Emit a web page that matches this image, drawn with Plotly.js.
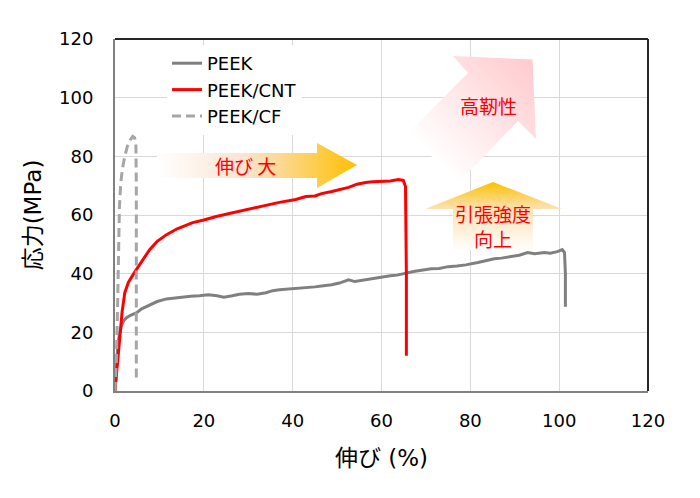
<!DOCTYPE html>
<html>
<head>
<meta charset="utf-8">
<script src="https://cdn.plot.ly/plotly-3.0.1.min.js"></script>
<style>html,body{margin:0;padding:0;background:#fff;}#chart{width:700px;height:498px;}</style>
</head>
<body>
<div id="chart"></div>
<script>
// ---- data ----
const seriesNames = ["PEEK", "PEEK/CNT", "PEEK/CF"];

const peekX = [0, 0.3, 0.6, 1.0, 1.5, 2.0, 2.6, 3.5, 4.9, 6.0, 7.8, 9.5, 11.6, 13.5, 15.3, 17, 19, 21, 23, 24.5, 26.4, 28, 30, 32, 34, 35.5, 37, 39, 41.4, 43, 45, 46.5, 48.8, 50.5, 52.6, 54, 56.4, 58, 60, 62, 63.5, 65.6, 67.5, 69, 71.2, 73, 75, 77, 79, 81.7, 83.5, 85.4, 87, 89.2, 91, 92.9, 94.5, 96.7, 98, 99.6, 100.7, 101.2, 101.4, 101.4];
const peekY = [0, 8, 15, 19.5, 22.5, 24, 25, 25.8, 26.7, 28, 29.4, 30.5, 31.4, 31.8, 32.1, 32.3, 32.5, 32.8, 32.5, 32.0, 32.5, 33, 33.2, 33.0, 33.5, 34.2, 34.5, 34.7, 34.9, 35.3, 35.5, 35.8, 36.2, 36.8, 37.9, 37.3, 37.9, 38.3, 39, 39.3, 39.5, 40.3, 40.8, 41.2, 41.7, 41.8, 42.4, 42.6, 43, 43.8, 44.4, 45.1, 45.3, 45.8, 46.3, 47.2, 46.8, 47.2, 47.0, 47.5, 48.2, 47.2, 40, 28.7];

const cntX = [0, 0.4, 0.8, 1.1, 1.6, 2.2, 3.0, 4.5, 6.0, 7.8, 9.5, 11.6, 14, 17.5, 20, 22.8, 26, 28, 30.2, 33, 35, 37, 40.7, 43, 45, 46.5, 48.8, 50.5, 52.6, 54.5, 56.4, 58, 60, 62, 63.8, 64.9, 65.4, 65.6, 65.6];
const cntY = [0, 7, 14, 19.8, 27, 33.5, 37, 40.7, 44, 48.2, 51, 53.3, 55.3, 57.4, 58.3, 59.5, 60.6, 61.3, 61.9, 63, 63.8, 64.3, 65.3, 66.3, 66.5, 67.3, 68, 68.7, 69.4, 70.5, 71.1, 71.3, 71.5, 71.6, 72.1, 71.8, 69.7, 40, 12];

const cfX = [0, 0.3, 0.6, 0.8, 0.9, 1.0, 1.3, 1.7, 2.2, 2.8, 3.4, 4.0, 4.4, 4.7, 4.8, 4.8];
const cfY = [0, 10, 30, 45, 55, 63, 71, 76, 80, 83.5, 85.5, 86.8, 86.4, 84.5, 70, 4.4];

const xTicks = [0, 20, 40, 60, 80, 100, 120];
const yTicks = [0, 20, 40, 60, 80, 100, 120];
const xTitle = "伸び (%)";
const yTitle = "応力(MPa)";
const noteElong = "伸び 大";
const noteTough = "高靭性";
const noteStrength = "引張強度<br>向上";

// ---- layout helpers ----
const W = 700, H = 498;
const M = {l: 115, r: 52, t: 39, b: 107};
const PW = W - M.l - M.r, PH = H - M.t - M.b;
const px = v => (v - M.l) / PW;          // figure px -> paper x
const py = v => (M.t + PH - v) / PH;     // figure px -> paper y
const jp = "'DejaVu Sans', 'Noto Sans CJK JP', sans-serif";
const cjk = "'Noto Sans CJK JP', sans-serif";

// decorative gradient arrows (coordinates in plot-area pixels)
const svg =
`<svg xmlns="http://www.w3.org/2000/svg" width="${PW}" height="${PH}" viewBox="0 0 ${PW} ${PH}" preserveAspectRatio="none">
<defs>
<linearGradient id="gA" gradientUnits="userSpaceOnUse" x1="42" y1="0" x2="242" y2="0">
<stop offset="0" stop-color="#ffffff"/><stop offset="0.45" stop-color="#fbe3cf"/><stop offset="1" stop-color="#ffc000"/>
</linearGradient>
<linearGradient id="gB" gradientUnits="userSpaceOnUse" x1="0" y1="143" x2="0" y2="213">
<stop offset="0" stop-color="#ffc000"/><stop offset="0.38" stop-color="#fde2b4"/><stop offset="1" stop-color="#ffffff"/>
</linearGradient>
<linearGradient id="gC" gradientUnits="userSpaceOnUse" x1="318" y1="119" x2="417" y2="20">
<stop offset="0" stop-color="#ffffff"/><stop offset="1" stop-color="#ffcacd"/>
</linearGradient>
</defs>
<path d="M293,94 L353,34 L338,17 L417.5,20.5 L421,100 L403,82 L343,144 Z" fill="url(#gC)"/>
<path d="M42,114 L202,114 L202,104 L242,126 L202,149 L202,139 L42,139 Z" fill="url(#gA)"/>
<path d="M310,170 L378,143 L447,170 L418,170 L418,211 L338,211 L338,170 Z" fill="url(#gB)"/>
</svg>`;

const traces = [
  {x: peekX, y: peekY, name: seriesNames[0], type: "scatter", mode: "lines",
   line: {color: "#808080", width: 3}, legendgroup: "a"},
  {x: cntX, y: cntY, name: seriesNames[1], type: "scatter", mode: "lines",
   line: {color: "#ff0000", width: 3}, legendgroup: "b"},
  {x: cfX, y: cfY, name: seriesNames[2], type: "scatter", mode: "lines",
   line: {color: "#a6a6a6", width: 3, dash: "9px,5px"}, legendgroup: "c"}
];

const note = (text, x, y) => ({
  text: text, xref: "paper", yref: "paper", x: px(x), y: py(y),
  xanchor: "center", yanchor: "middle", showarrow: false, align: "center",
  font: {family: cjk, size: 19, color: "#ff0000"}
});

const layout = {
  width: W, height: H,
  margin: M,
  paper_bgcolor: "#ffffff",
  plot_bgcolor: "#ffffff",
  showlegend: true,
  legend: {
    x: px(167), y: py(45), xanchor: "left", yanchor: "top",
    bgcolor: "#ffffff", borderwidth: 0,
    font: {family: jp, size: 18, color: "#000000"},
    traceorder: "grouped", tracegroupgap: 0
  },
  xaxis: {
    range: [0, 120], tickvals: xTicks, ticktext: xTicks.map(String),
    showgrid: true, gridcolor: "#d9d9d9", gridwidth: 1,
    showline: true, linecolor: "#808080", linewidth: 2,
    zeroline: false, ticks: "", ticklabelstandoff: 12,
    tickfont: {family: jp, size: 18, color: "#000000"},
    title: {text: xTitle, font: {family: jp, size: 23, color: "#000000"}, standoff: 20},
    fixedrange: true
  },
  yaxis: {
    range: [0, 120], tickvals: yTicks, ticktext: yTicks.map(String),
    showgrid: true, gridcolor: "#d9d9d9", gridwidth: 1,
    showline: true, linecolor: "#808080", linewidth: 2,
    zeroline: false, ticks: "", ticklabelstandoff: 16,
    tickfont: {family: jp, size: 18, color: "#000000"},
    title: {text: yTitle, font: {family: jp, size: 23, color: "#000000"}, standoff: 11},
    fixedrange: true
  },
  images: [{
    source: "data:image/svg+xml;charset=utf-8," + encodeURIComponent(svg),
    xref: "paper", yref: "paper", x: 0, y: 1, sizex: 1, sizey: 1,
    xanchor: "left", yanchor: "top", sizing: "stretch", layer: "above"
  }],
  shapes: [
    {type: "line", xref: "paper", yref: "paper", x0: 0, x1: 1, y0: 1, y1: 1,
     line: {color: "#262626", width: 2}, layer: "above"},
    {type: "line", xref: "paper", yref: "paper", x0: 1, x1: 1, y0: 0, y1: 1,
     line: {color: "#262626", width: 2}, layer: "above"}
  ],
  annotations: [
    note(noteElong, 245, 165),
    note(noteTough, 488, 106),
    note(noteStrength, 493, 226)
  ]
};

Plotly.newPlot("chart", traces, layout, {displayModeBar: false, staticPlot: true});
</script>
</body>
</html>
